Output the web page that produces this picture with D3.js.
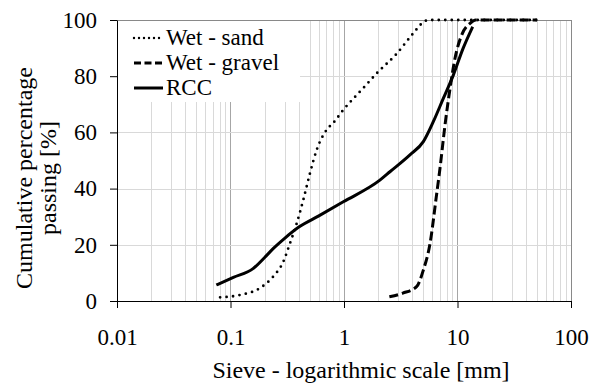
<!DOCTYPE html>
<html>
<head>
<meta charset="utf-8">
<script src="https://cdn.jsdelivr.net/npm/d3@7"></script>
<style>
  body { margin: 0; background: #fff; }
</style>
</head>
<body>
<div id="graph"></div>
<script>
const width = 590, height = 383;
const plotLeft = 117, plotRight = 571, plotTop = 20, plotBottom = 301;
const serif = "'Liberation Serif', 'Times New Roman', serif";

// sieve sizes [mm] and cumulative passing [%]
const sandSize = [0.081, 0.12, 0.18, 0.238, 0.292, 0.334, 0.383, 0.438, 0.501, 0.574, 0.703, 0.805, 0.986, 1.48, 1.94, 2.91, 4.08, 5.0, 5.5, 50];
const sandPass = [1.3, 2.1, 4.5, 8.7, 14, 20.5, 27.6, 36, 45.4, 53.7, 60.9, 63.4, 68, 75.8, 81, 88, 95.3, 99.2, 100, 100];

const gravelSize = [2.51, 3.3, 4.36, 5.0, 5.73, 6.5, 7.0, 7.76, 8.6, 9.51, 10.9, 12.9, 14.5, 50];
const gravelPass = [1.5, 2.8, 5.1, 11, 20.5, 37, 47, 62.6, 75.7, 86.4, 94.7, 98.8, 100, 100];

const rccSize = [0.075, 0.106, 0.159, 0.2, 0.24, 0.3, 0.4, 0.6, 0.986, 2.07, 2.54, 3.81, 5.0, 6.12, 7.5, 9.19, 11.2, 13.6];
const rccPass = [5.7, 8.4, 11.6, 15.5, 18.8, 22.3, 26.3, 30.3, 35.3, 43, 46, 52, 56.7, 63.8, 72.1, 80.4, 89.9, 97.6];

const xTicks = [0.01, 0.1, 1, 10, 100];
const xTickLabels = ["0.01", "0.1", "1", "10", "100"];
const yTicks = [0, 20, 40, 60, 80, 100];

const seriesNames = ["Wet - sand", "Wet - gravel", "RCC"];

let svg =
d3.select("#graph").
append("svg").
attr("width", width).
attr("height", height).
style("font-family", serif);

const xScale = d3.scaleLog().domain([0.01, 100]).range([plotLeft, plotRight]);
const yScale = d3.scaleLinear().domain([0, 100]).range([plotBottom, plotTop]);

// minor + major vertical gridlines
let gridX = [];
for (let e = -2; e < 2; e++) {
  for (let k = 1; k < 10; k++) gridX.push({ v: k * Math.pow(10, e), major: k === 1 });
}
svg.append("g").selectAll("line").
data(gridX.filter(d => d.v > 0.011)).
enter().append("line").
attr("x1", d => Math.round(xScale(d.v)) + 0.5).attr("x2", d => Math.round(xScale(d.v)) + 0.5).
attr("y1", plotTop).attr("y2", plotBottom).
attr("stroke", d => d.major ? "#a6a6a6" : "#d9d9d9").
attr("stroke-width", 1);

svg.append("g").selectAll("line").
data([20, 40, 60, 80]).
enter().append("line").
attr("x1", plotLeft).attr("x2", plotRight).
attr("y1", d => Math.round(yScale(d)) + 0.5).attr("y2", d => Math.round(yScale(d)) + 0.5).
attr("stroke", "#d9d9d9");

// top & right border
svg.append("line").attr("x1", plotLeft).attr("x2", plotRight).attr("y1", plotTop + 0.5).attr("y2", plotTop + 0.5).attr("stroke", "#898989");
svg.append("line").attr("x1", plotRight + 0.5).attr("x2", plotRight + 0.5).attr("y1", plotTop).attr("y2", plotBottom).attr("stroke", "#898989");

// legend background
svg.append("rect").attr("x", plotLeft + 1).attr("y", plotTop + 1).attr("width", 182).attr("height", 81).attr("fill", "#fff");

// axes
const xAxis = d3.axisBottom(xScale).tickValues(xTicks).tickFormat((d, i) => xTickLabels[i]).tickSize(7).tickSizeOuter(0).tickPadding(21);
const yAxis = d3.axisLeft(yScale).tickValues(yTicks).tickSize(7).tickSizeOuter(0).tickPadding(13);

let gx = svg.append("g").attr("transform", "translate(0," + plotBottom + ")").call(xAxis);
let gy = svg.append("g").attr("transform", "translate(" + plotLeft + ",0)").call(yAxis);
[gx, gy].forEach(g => {
  g.attr("font-family", null).attr("font-size", null);
  g.selectAll("text").style("font-family", serif).style("font-size", "23px").attr("fill", "#000");
  g.selectAll("line").attr("stroke", "#000");
  g.select(".domain").attr("stroke", "#000");
});

// curves
const line = d3.line().curve(d3.curveMonotoneX);
const series = [
  { size: sandSize, pass: sandPass, dash: "0,6.5", width: 2.8, cap: "round" },
  { size: gravelSize, pass: gravelPass, dash: "9,4", width: 3, cap: "butt" },
  { size: rccSize, pass: rccPass, dash: null, width: 3, cap: "butt" }
];
series.forEach(s => {
  const pts = s.size.map((d, i) => [xScale(d), yScale(s.pass[i])]);
  svg.append("path").
  attr("d", line(pts)).
  attr("fill", "none").
  attr("stroke", "#000").
  attr("stroke-width", s.width).
  attr("stroke-linecap", s.cap).
  attr("stroke-dasharray", s.dash);
});

// legend
const legendDash = ["0,5", "7,3.5", null];
const legendW = [2.4, 3, 3];
seriesNames.forEach((name, i) => {
  const ly = 38 + i * 25;
  svg.append("line").
  attr("x1", 134).attr("x2", 163).attr("y1", ly).attr("y2", ly).
  attr("stroke", "#000").
  attr("stroke-width", legendW[i]).
  attr("stroke-linecap", i === 0 ? "round" : "butt").
  attr("stroke-dasharray", legendDash[i]);
  svg.append("text").
  attr("x", 166).attr("y", ly + 7).
  style("font-family", serif).
  style("font-size", "23px").
  text(name);
});

// axis titles
svg.append("text").
attr("x", 361).attr("y", 378).
attr("text-anchor", "middle").
style("font-family", serif).
style("font-size", "24px").
text("Sieve - logarithmic scale [mm]");

let yTitle = svg.append("text").
attr("transform", "translate(0,178) rotate(-90)").
attr("text-anchor", "middle").
style("font-family", serif).
style("font-size", "24px");
yTitle.append("tspan").attr("x", 0).attr("y", 32).text("Cumulative percentage");
yTitle.append("tspan").attr("x", 0).attr("y", 56).text("passing [%]");
</script>
</body>
</html>
